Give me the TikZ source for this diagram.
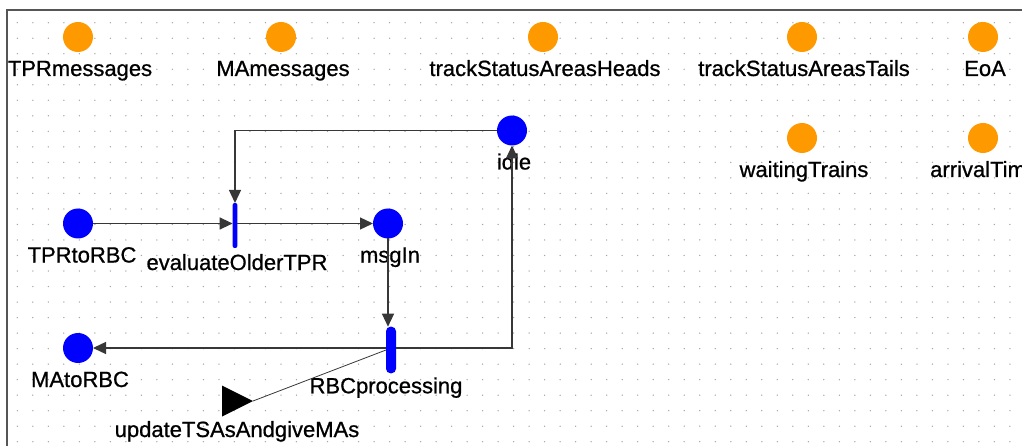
\documentclass[tikz,border=0pt]{standalone}
\usepackage{fontspec}
\setmainfont{Liberation Sans}
\font\lblfont="Liberation Sans:embolden=0.8" at 22pt
\usetikzlibrary{arrows.meta,shapes.geometric}
\definecolor{placeorange}{RGB}{255,153,0}
\definecolor{placeblue}{RGB}{0,0,255}
\definecolor{flowgray}{RGB}{55,55,55}
\definecolor{framegray}{RGB}{85,85,85}

\begin{document}
\begin{tikzpicture}[x=1pt,y=-1pt,
    every node/.style={font=\lblfont},
    lbl/.style={anchor=base,inner sep=0pt},
    pl/.style={circle,fill=#1,inner sep=0pt,outer sep=0pt,minimum size=30pt},
    plbl/.style={label={[lbl,xshift=2pt,yshift=-24pt]below:#1}},
    bar/.style={rectangle,fill=placeblue,inner sep=0pt,outer sep=0pt,minimum width=#1},
    flow/.style={draw=flowgray,line width=1.3pt,-{Triangle[length=13pt,width=12pt]}},
    thinflow/.style={draw=flowgray,line width=0.8pt},
    dot/.style={fill=black!35}
  ]
    \useasboundingbox (0,0) rectangle (1022,446);
    \clip (0,0) rectangle (1022,446);
    \foreach \i in {0,...,64}
      \foreach \j in {0,...,27}
        \fill[dot] ({17.3+15.51*\i},{22.7+15.52*\j}) circle[radius=0.75pt];
    \draw[framegray,line width=2pt] (6.7,446) -- (6.7,10) -- (1022,10);

    \node[pl=placeorange,plbl=TPRmessages] (tprm) at (78,37) {};
    \node[pl=placeorange,plbl=MAmessages] (mam) at (281,37) {};
    \node[pl=placeorange,plbl=trackStatusAreasHeads] (tsah) at (543,37) {};
    \node[pl=placeorange,plbl=trackStatusAreasTails] (tsat) at (802,37) {};
    \node[pl=placeorange,plbl=EoA] (eoa) at (983,37) {};
    \node[pl=placeorange,plbl=waitingTrains] (wait) at (802,138) {};
    \node[pl=placeorange,label={[lbl,anchor=base west,xshift=-53pt,yshift=-24pt]below:arrivalTim}] (arr) at (983,138) {};

    \node[pl=placeblue,plbl=idle] (idle) at (512,130.5) {};
    \node[pl=placeblue,label={[lbl,xshift=4pt,yshift=-24pt]below:TPRtoRBC}] (tprin) at (78,223.5) {};
    \node[pl=placeblue,plbl=msgIn] (msg) at (388,223.5) {};
    \node[pl=placeblue,plbl=MAtoRBC] (maout) at (78,348) {};

    \node[bar=4.7pt,minimum height=45pt,rounded corners=2pt,
      label={[lbl,xshift=2pt,yshift=-22pt]below:evaluateOlderTPR}] (eval) at (235,225.5) {};
    \node[bar=10pt,minimum height=46.6pt,rounded corners=4.5pt,
      label={[lbl,xshift=-5pt,yshift=-20pt]below:RBCprocessing}] (rbc) at (391,350) {};
    \node[isosceles triangle,isosceles triangle stretches,fill=black,inner sep=0pt,outer sep=0pt,
      minimum width=31pt,minimum height=31pt,anchor=apex] (upd) at (253,401) {};
    \node[lbl] at ([xshift=-16pt,yshift=-36pt]upd.apex) {updateTSAsAndgiveMAs};

    \draw[flow] (tprin) -- (tprin -| eval.west);
    \draw[flow] (eval.east |- msg) -- (msg);
    \draw[flow] (idle) -| (eval);
    \draw[flow] (msg) -- (msg |- rbc.north);
    \draw[flow] (rbc.west |- maout) -- (maout);
    \draw[flow] (rbc.east |- maout) -| (idle);
    \draw[thinflow] (rbc.west) -- (upd.apex);
\end{tikzpicture}
\end{document}
